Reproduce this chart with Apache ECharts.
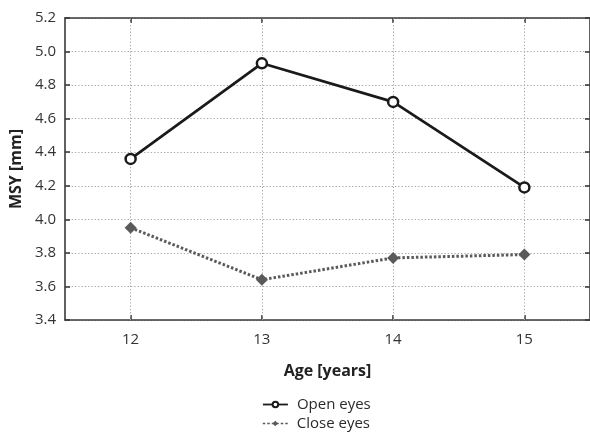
<!DOCTYPE html>
<html><head><meta charset="utf-8">
<script src="https://cdn.jsdelivr.net/npm/echarts@6/dist/echarts.min.js"></script>
<style>html,body{margin:0;padding:0;background:#fff}#c{width:590px;height:436px}</style>
</head><body><div id="c"></div>
<script>
const categories = ['12', '13', '14', '15'];
const openEyes = [4.36, 4.93, 4.70, 4.19];
const closeEyes = [3.95, 3.64, 3.77, 3.79];
const yTicks = [3.4, 3.6, 3.8, 4.0, 4.2, 4.4, 4.6, 4.8, 5.0, 5.2];
const seriesNames = ['Open eyes', 'Close eyes'];

const FONT = 'Open Sans';
const chart = echarts.init(document.getElementById('c'), null, {renderer: 'canvas'});
const dotted = {color: '#a8a8a8', type: [1.3, 2], width: 1};
const axisLine = {show: true, lineStyle: {color: '#3a3a3a', width: 1.6}};
const tick = {show: true, inside: true, length: 5, lineStyle: {color: '#3a3a3a', width: 1.6}};
const legendText = {fontFamily: FONT, fontSize: 15, color: '#2a2a2a', padding: [0, 0, 0, 4]};
chart.setOption({
  animation: false,
  backgroundColor: '#fff',
  grid: {left: 64, top: 18, width: 528, height: 302, containLabel: false},
  legend: [{
    left: 257, top: 392, itemWidth: 25, itemHeight: 7, itemGap: 4,
    textStyle: legendText, data: [seriesNames[0]],
    lineStyle: {width: 1.8}
  }, {
    left: 257, top: 411, itemWidth: 25, itemHeight: 7, itemGap: 4,
    textStyle: legendText, data: [seriesNames[1]],
    lineStyle: {width: 1.5}
  }],
  xAxis: [{
    type: 'category', data: categories, position: 'bottom',
    name: 'Age [years]', nameLocation: 'middle', nameGap: 43,
    nameTextStyle: {fontFamily: FONT, fontSize: 16, fontWeight: 'bold', color: '#222'},
    axisLine: axisLine,
    axisTick: Object.assign({alignWithLabel: true}, tick),
    axisLabel: {fontFamily: FONT, fontSize: 15, color: '#333', margin: 12},
    splitLine: {show: false}
  }, {
    type: 'category', data: categories, position: 'top',
    axisLine: axisLine,
    axisTick: Object.assign({alignWithLabel: true}, tick),
    axisLabel: {show: false}, splitLine: {show: false}
  }],
  yAxis: [{
    type: 'value', min: 3.4, max: 5.2, interval: 0.2, position: 'left',
    name: 'MSY [mm]', nameLocation: 'middle', nameGap: 35, nameRotate: 90,
    nameTextStyle: {fontFamily: FONT, fontSize: 16, fontWeight: 'bold', color: '#222'},
    axisLine: axisLine,
    axisTick: tick,
    axisLabel: {fontFamily: FONT, fontSize: 15, color: '#333', margin: 9,
      formatter: v => { const t = yTicks.find(x => Math.abs(x - v) < 1e-6); return (t !== undefined ? t : v).toFixed(1); }},
    splitLine: {show: true, lineStyle: dotted}
  }, {
    type: 'value', min: 3.4, max: 5.2, interval: 0.2, position: 'right',
    axisLine: axisLine,
    axisTick: tick,
    axisLabel: {show: false}, splitLine: {show: false}
  }],
  series: [{
    name: seriesNames[0], type: 'line', data: openEyes, xAxisIndex: 0, yAxisIndex: 0,
    symbol: 'circle', symbolSize: 10, z: 3,
    lineStyle: {color: '#1a1a1a', width: 2.7},
    itemStyle: {color: '#fff', borderColor: '#1a1a1a', borderWidth: 2.5},
    markLine: {
      silent: true, symbol: 'none', label: {show: false}, z: 1,
      lineStyle: dotted, emphasis: {disabled: true},
      data: categories.map(c => ({xAxis: c}))
    }
  }, {
    name: seriesNames[1], type: 'line', data: closeEyes, xAxisIndex: 0, yAxisIndex: 0,
    symbol: 'diamond', symbolSize: 12,
    lineStyle: {color: '#5a5a5a', width: 3, type: [2.5, 2]},
    itemStyle: {color: '#5a5a5a'}
  }]
});
</script></body></html>
